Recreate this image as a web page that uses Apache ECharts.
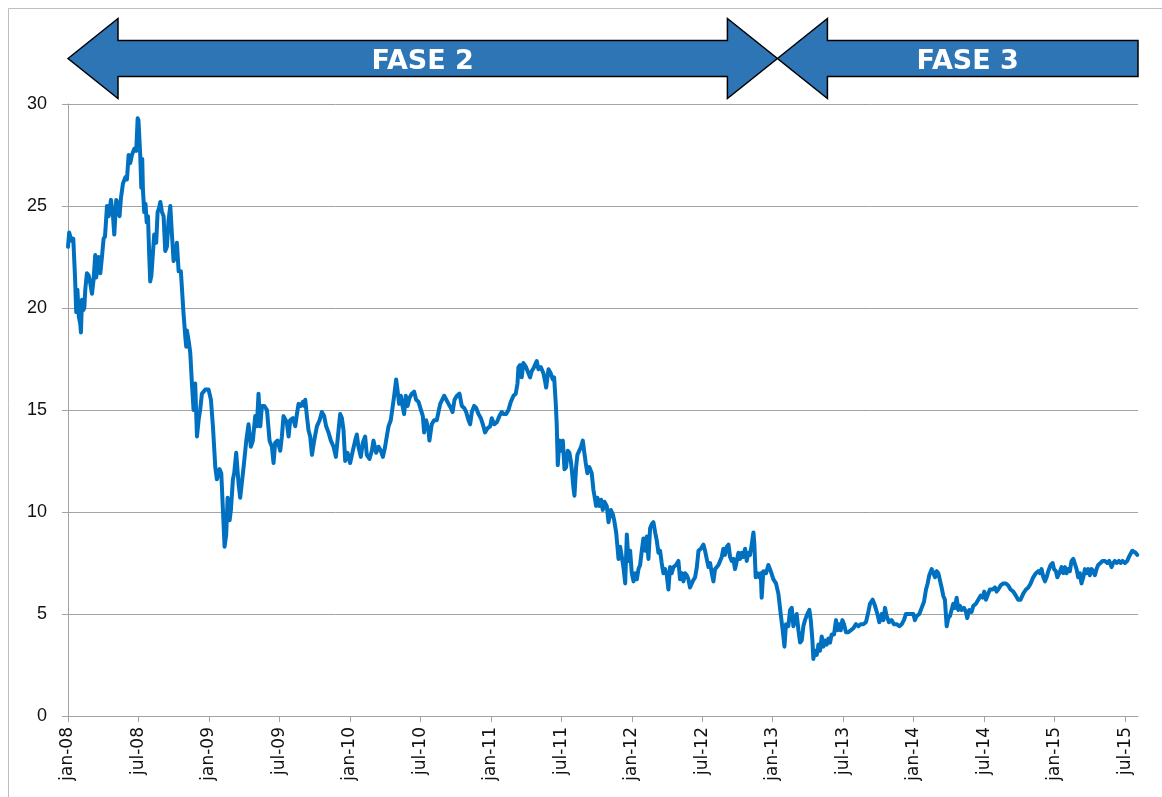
<!DOCTYPE html>
<html><head><meta charset="utf-8">
<script src="https://cdn.jsdelivr.net/npm/echarts@6/dist/echarts.min.js"></script>
<style>html,body{margin:0;padding:0;background:#fff}#c{width:1162px;height:797px}</style>
</head><body><div id="c"></div>
<script>
// x: months since jan-08, y: value
const months = [
0.00,0.10,0.30,0.45,0.60,0.70,0.80,0.92,1.05,1.10,1.19,1.30,1.39,1.47,1.61,1.75,1.84,2.04,2.18,2.32,2.40,2.47,2.61,2.75,2.89,3.03,3.15,3.32,3.46,3.66,3.83,3.94,4.11,4.22,4.39,4.51,4.68,4.88,5.02,5.16,5.30,5.44,5.64,5.81,5.93,6.00,6.15,6.24,6.32,6.38,6.49,6.60,6.70,6.81,6.92,7.00,7.10,7.23,7.34,7.51,7.63,7.75,7.86,8.00,8.14,8.22,8.28,8.42,8.56,8.71,8.85,8.99,9.13,9.27,9.42,9.61,9.84,10.00,10.07,10.12,10.27,10.41,10.55,10.69,10.83,10.98,11.12,11.25,11.40,11.69,11.97,12.17,12.34,12.54,12.68,12.90,13.05,13.19,13.33,13.47,13.59,13.76,13.87,14.04,14.15,14.32,14.52,
14.66,14.80,14.95,15.18,15.37,15.57,15.74,15.94,16.08,16.22,16.37,16.51,16.71,16.94,17.16,17.36,17.50,17.64,17.84,18.07,18.21,18.35,18.63,18.78,18.92,19.15,19.35,19.49,19.63,19.83,20.00,20.11,20.20,20.34,20.48,20.62,20.77,20.96,21.19,21.42,21.61,21.81,21.98,22.18,22.38,22.61,22.81,22.98,23.17,23.32,23.46,23.60,23.80,24.02,24.25,24.45,24.59,24.73,24.93,25.10,25.30,25.44,25.67,25.87,26.01,26.24,26.44,26.64,26.81,27.00,27.14,27.29,27.48,27.65,27.77,27.94,28.05,28.19,28.34,28.48,28.62,28.76,28.91,29.08,29.27,29.47,29.64,29.84,
30.21,30.32,30.49,30.69,30.77,30.97,31.17,31.40,31.54,31.69,31.83,32.03,32.20,32.40,32.60,32.74,32.91,33.11,33.33,33.53,33.73,33.90,34.10,34.24,34.38,34.58,34.75,34.95,35.15,35.32,35.51,35.71,35.94,36.08,36.28,36.51,36.73,36.93,37.07,37.30,37.50,37.70,37.93,38.12,38.27,38.35,38.49,38.63,38.77,39.00,39.15,39.34,39.48,39.68,39.91,40.05,40.25,40.48,40.62,40.71,40.91,41.10,41.27,41.39,41.53,41.61,41.70,41.84,41.96,42.13,42.27,42.41,42.55,42.69,42.81,42.89,43.03,43.12,43.26,43.37,43.54,43.68,43.83,43.94,44.08,44.22,44.39,
44.59,44.73,44.88,44.96,45.07,45.25,45.39,45.53,45.67,45.87,46.02,46.21,46.38,46.50,46.67,46.78,46.87,47.01,47.15,47.29,47.44,47.58,47.72,47.86,48.00,48.15,48.29,48.43,48.57,48.71,48.85,48.99,49.14,49.28,49.42,49.56,49.70,49.84,49.99,50.13,50.27,50.41,50.55,50.69,50.84,50.98,51.12,51.26,51.40,51.55,51.77,51.97,52.11,52.26,52.40,52.54,52.68,52.82,52.96,53.19,53.39,53.54,53.68,53.88,54.10,54.24,54.38,54.53,54.67,54.81,54.95,55.09,55.23,55.38,55.52,55.66,55.80,55.94,56.09,56.23,56.37,56.51,56.65,56.79,56.94,57.08,57.22,57.36,57.50,57.65,57.79,57.93,58.07,58.21,58.36,58.44,58.55,58.69,58.84,
58.98,59.06,59.20,59.43,59.63,59.83,60.06,60.28,60.48,60.68,60.85,61.00,61.13,61.33,61.48,61.62,61.76,61.90,62.04,62.19,62.33,62.47,62.61,62.75,62.95,63.12,63.24,63.38,63.46,63.60,63.75,63.89,64.03,64.17,64.31,64.46,64.60,64.74,64.88,65.02,65.22,65.39,65.51,65.65,65.79,65.93,66.07,66.24,66.44,66.64,66.86,67.09,67.29,67.49,67.72,67.94,68.14,68.28,68.51,68.71,68.91,69.08,69.28,69.42,69.56,69.70,69.90,70.12,70.32,70.55,70.78,70.98,71.17,71.34,71.54,71.74,71.97,72.11,72.25,72.48,72.68,72.88,73.05,73.19,73.33,73.53,73.67,73.82,73.96,74.10,
74.24,74.38,74.52,74.66,74.81,74.95,75.09,75.23,75.37,75.51,75.66,75.80,75.94,76.08,76.28,76.45,76.56,76.73,76.93,77.08,77.30,77.50,77.70,77.87,78.01,78.15,78.35,78.49,78.72,78.92,79.06,79.20,79.40,79.63,79.85,80.05,80.25,80.48,80.70,80.90,81.10,81.33,81.56,81.76,81.96,82.18,82.41,82.61,82.75,82.89,83.04,83.18,83.32,83.46,83.66,83.83,83.95,84.11,84.23,84.40,84.59,84.74,84.88,85.02,85.16,85.30,85.44,85.59,85.73,85.87,86.01,86.15,86.29,86.44,86.58,86.72,86.86,87.00,87.15,87.29,87.43,87.57,87.71,87.91,88.08,88.28,88.48,88.65,88.85,88.99,89.13,89.28,89.47,89.62,89.79,89.99,90.18,90.33,90.47,90.61,90.75,90.89,91.03
];
const values = [
23.0,23.7,23.3,23.4,21.5,19.8,20.9,19.6,19.2,18.8,20.4,19.9,20.0,20.9,21.7,21.6,21.4,20.7,21.4,22.6,21.5,21.5,22.5,21.7,22.5,23.4,23.5,25.0,24.5,25.3,24.5,23.6,25.3,25.1,24.5,25.4,26.1,26.4,26.3,27.5,27.1,27.5,27.8,27.7,29.3,29.2,27.5,25.9,27.3,25.8,24.7,25.1,24.2,24.5,22.5,21.3,21.6,22.7,23.6,23.2,24.7,24.9,25.2,24.7,24.5,23.5,22.8,23.0,24.3,25.0,23.6,22.3,22.5,23.2,21.8,21.8,19.7,18.5,18.1,18.9,18.4,17.8,16.3,15.0,16.3,13.7,14.5,15.0,15.8,16.0,16.0,15.5,14.2,12.2,11.6,12.1,11.9,10.1,8.3,8.9,10.7,9.6,10.1,11.6,11.9,12.9,11.4,
10.7,10.7,12.2,13.5,14.3,13.2,13.5,14.7,14.2,15.8,14.2,15.2,15.2,15.0,13.5,13.2,12.4,13.4,13.5,13.0,13.7,14.7,14.4,13.7,14.5,14.6,14.2,14.8,15.3,15.2,15.4,15.2,15.5,14.7,14.0,13.7,12.8,13.5,14.2,14.5,14.9,14.7,14.2,13.9,13.5,13.2,12.7,13.7,14.8,14.6,14.0,12.5,12.9,12.4,13.0,13.5,13.8,13.2,12.7,13.4,13.7,12.8,12.6,13.0,13.5,12.9,13.2,13.0,12.7,13.2,13.7,14.2,14.5,15.2,15.7,16.5,16.0,15.3,15.7,15.2,14.8,15.7,15.2,15.6,15.8,15.9,15.5,15.4,
14.7,13.9,14.5,14.0,13.5,14.3,14.5,14.5,14.9,15.3,15.3,15.7,15.7,15.3,15.1,14.9,15.5,15.7,15.8,15.2,15.1,14.9,14.5,14.3,14.9,15.2,15.1,14.8,14.6,14.3,13.9,14.1,14.2,14.6,14.3,14.4,14.7,14.9,14.8,14.8,15.0,15.4,15.7,15.8,16.3,17.1,17.2,16.6,17.3,17.1,17.1,16.6,16.9,17.1,17.4,17.0,17.1,16.8,16.4,16.1,17.0,16.8,16.5,16.6,15.3,14.3,12.3,13.5,13.0,13.5,12.1,12.2,13.0,12.9,12.5,12.1,11.2,10.8,12.2,12.8,12.8,13.2,13.5,13.0,12.4,11.9,12.2,
11.9,11.1,10.6,10.3,10.7,10.3,10.6,10.1,10.5,10.3,9.5,10.1,9.9,9.6,9.0,8.3,7.7,8.3,7.8,7.3,6.5,8.9,7.6,8.1,7.0,6.6,7.0,6.7,7.2,7.4,8.1,8.7,8.1,8.8,7.7,9.2,9.4,9.5,9.0,8.6,8.0,8.1,7.5,7.0,7.2,6.9,6.2,7.3,7.0,7.3,7.4,7.6,6.7,7.0,6.6,7.0,6.9,6.7,6.3,6.6,6.8,7.3,8.1,8.2,8.4,8.1,7.7,7.3,7.5,7.0,6.6,7.2,7.2,7.4,7.6,7.8,8.2,7.9,8.3,8.4,7.8,7.6,7.7,7.2,7.6,8.0,7.7,8.0,7.8,8.2,7.6,8.0,7.9,8.4,9.0,8.4,6.8,7.0,6.8,
7.0,5.8,7.1,7.0,7.4,7.1,6.7,6.5,6.0,5.0,4.2,3.4,4.5,4.4,5.2,5.3,4.4,4.7,5.0,4.2,3.6,3.7,4.4,4.7,5.0,5.2,4.7,3.7,2.8,3.2,3.0,3.5,3.2,3.9,3.4,3.7,3.5,3.8,3.6,4.0,4.0,4.7,4.2,4.5,4.2,4.7,4.5,4.1,4.1,4.2,4.3,4.5,4.4,4.5,4.5,4.6,5.1,5.5,5.7,5.4,5.0,4.6,5.0,4.7,5.3,4.9,4.6,4.7,4.5,4.5,4.4,4.5,4.7,5.0,5.0,5.0,5.0,4.7,4.9,5.0,5.3,5.6,6.2,6.5,6.9,7.2,7.2,6.8,7.1,7.0,
7.0,6.3,5.9,5.7,4.4,4.8,4.9,5.2,5.5,5.3,5.8,5.2,5.4,5.2,5.3,5.1,4.8,5.2,5.1,5.4,5.5,5.7,5.9,5.8,6.1,5.7,6.0,6.2,6.2,6.3,6.1,6.2,6.4,6.5,6.5,6.4,6.2,6.1,5.9,5.7,5.7,6.0,6.2,6.3,6.5,6.8,7.0,7.1,7.0,7.2,6.8,6.6,6.8,7.1,7.4,7.5,7.2,7.1,6.8,7.0,7.3,7.0,7.3,7.0,7.2,7.1,7.6,7.7,7.7,7.2,6.8,7.0,6.5,6.8,7.2,7.0,7.2,6.9,7.2,7.1,6.9,7.2,7.4,7.5,7.6,7.6,7.5,7.6,7.3,7.5,7.6,7.5,7.6,7.5,7.6,7.5,7.6,7.8,7.8,8.1,8.1,8.0,7.9
];
const tickLabels = ['jan-08','jul-08','jan-09','jul-09','jan-10','jul-10','jan-11','jul-11','jan-12','jul-12','jan-13','jul-13','jan-14','jul-14','jan-15','jul-15'];
const tickMonths = [0,6,12,18,24,30,36,42,48,54,60,66,72,78,84,90];
const phaseNames = ['FASE 2','FASE 3'];
const phaseFrom = [0, 60.4];
const phaseTo = [60.4, 91.1];

const chart = echarts.init(document.getElementById('c'), null, {renderer:'canvas'});
const data = months.map((m,i)=>[m, values[i]]);
const gridColor = '#a3a3a3';
chart.setOption({
  animation:false,
  grid:{left:68, right:24, top:104, bottom:81},
  xAxis:{type:'value', min:0, max:91.1, interval:6,
    splitLine:{show:false},
    axisLine:{show:true, lineStyle:{color:gridColor, width:1}},
    axisTick:{show:true, length:6, lineStyle:{color:gridColor}, customValues:tickMonths},
    axisLabel:{rotate:90, margin:11, fontFamily:'DejaVu Sans', fontSize:17, color:'#111',
      customValues:tickMonths,
      formatter: v => { const i = tickMonths.indexOf(Math.round(v)); return i>=0 ? tickLabels[i] : ''; }}
  },
  yAxis:{type:'value', min:0, max:30, interval:5,
    axisLine:{show:true, lineStyle:{color:gridColor}},
    axisTick:{show:true, length:6, lineStyle:{color:gridColor}},
    splitLine:{show:true, lineStyle:{color:gridColor, width:1}},
    axisLabel:{margin:21, fontFamily:'Liberation Sans', fontSize:18, color:'#111'}
  },
  series:[{type:'line', data:data, showSymbol:false, symbol:'none',
    lineStyle:{color:'#0070C0', width:4, join:'round', cap:'round'},
    itemStyle:{color:'#0070C0'}}]
});

const px = m => chart.convertToPixel({xAxisIndex:0}, m);
const cy = 58.5, headH = 40, shaftH = 18, headL = 50;
const elems = [{type:'rect', silent:true, shape:{x:8.5, y:8.5, width:1170, height:810},
  style:{fill:'none', stroke:'#bdbdbd', lineWidth:1}}];
phaseNames.forEach((name, i) => {
  const x0 = px(phaseFrom[i]), x1 = px(phaseTo[i]);
  let pts;
  if (i === 0) {
    pts = [[x0,cy],[x0+headL,cy-headH],[x0+headL,cy-shaftH],[x1-headL,cy-shaftH],[x1-headL,cy-headH],[x1,cy],
           [x1-headL,cy+headH],[x1-headL,cy+shaftH],[x0+headL,cy+shaftH],[x0+headL,cy+headH]];
  } else {
    pts = [[x0,cy],[x0+headL,cy-headH],[x0+headL,cy-shaftH],[x1,cy-shaftH],[x1,cy+shaftH],[x0+headL,cy+shaftH],[x0+headL,cy+headH]];
  }
  elems.push({type:'polygon', silent:true, shape:{points:pts},
    style:{fill:'#2E75B6', stroke:'#000', lineWidth:1.5, lineJoin:'miter'}});
  const tx = i === 0 ? (x0+x1)/2 : (x0+headL+x1)/2 - 15;
  elems.push({type:'text', silent:true, x:tx, y:cy+3,
    style:{text:name, fill:'#fff', font:'bold 27px "DejaVu Sans"', align:'center', verticalAlign:'middle',
      textAlign:'center', textVerticalAlign:'middle'}});
});
chart.setOption({graphic:{elements:elems}});
</script>
</body></html>
